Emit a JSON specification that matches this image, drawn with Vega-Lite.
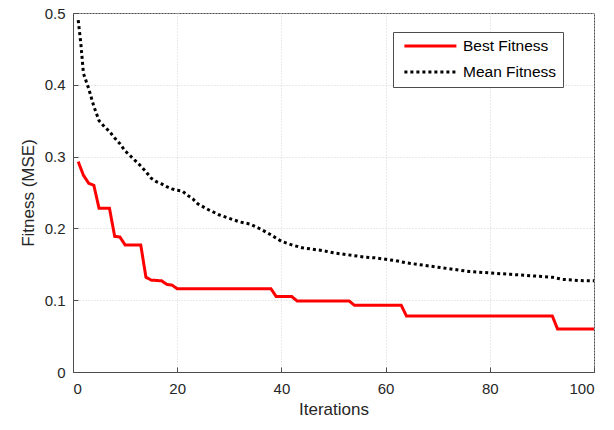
{
  "$schema": "https://vega.github.io/schema/vega-lite/v6.json",
  "width": 521,
  "height": 359,
  "autosize": {"type": "none"},
  "padding": {"left": 73, "top": 13, "right": 20, "bottom": 58},
  "background": "white",
  "config": {
    "font": "Liberation Sans",
    "view": {"stroke": "#4d4d4d", "strokeWidth": 1},
    "axis": {
      "domainColor": "#4d4d4d",
      "tickColor": "#4d4d4d",
      "gridColor": "#d4d4d4",
      "gridDash": [1, 2],
      "labelColor": "#262626",
      "titleColor": "#262626",
      "labelFont": "Liberation Sans",
      "titleFont": "Liberation Sans",
      "labelFontSize": 15,
      "titleFontSize": 17,
      "titleFontWeight": "normal"
    }
  },
  "data": {
    "values": [
      {"iter": 1, "fit": 0.293, "series": "Best Fitness"},
      {"iter": 2, "fit": 0.274, "series": "Best Fitness"},
      {"iter": 3, "fit": 0.263, "series": "Best Fitness"},
      {"iter": 4, "fit": 0.26, "series": "Best Fitness"},
      {"iter": 5, "fit": 0.228, "series": "Best Fitness"},
      {"iter": 7, "fit": 0.228, "series": "Best Fitness"},
      {"iter": 8, "fit": 0.189, "series": "Best Fitness"},
      {"iter": 9, "fit": 0.188, "series": "Best Fitness"},
      {"iter": 10, "fit": 0.177, "series": "Best Fitness"},
      {"iter": 13, "fit": 0.177, "series": "Best Fitness"},
      {"iter": 14, "fit": 0.132, "series": "Best Fitness"},
      {"iter": 15, "fit": 0.128, "series": "Best Fitness"},
      {"iter": 17, "fit": 0.127, "series": "Best Fitness"},
      {"iter": 18, "fit": 0.122, "series": "Best Fitness"},
      {"iter": 19, "fit": 0.121, "series": "Best Fitness"},
      {"iter": 20, "fit": 0.116, "series": "Best Fitness"},
      {"iter": 38, "fit": 0.116, "series": "Best Fitness"},
      {"iter": 39, "fit": 0.105, "series": "Best Fitness"},
      {"iter": 42, "fit": 0.105, "series": "Best Fitness"},
      {"iter": 43, "fit": 0.099, "series": "Best Fitness"},
      {"iter": 53, "fit": 0.099, "series": "Best Fitness"},
      {"iter": 54, "fit": 0.093, "series": "Best Fitness"},
      {"iter": 63, "fit": 0.093, "series": "Best Fitness"},
      {"iter": 64, "fit": 0.078, "series": "Best Fitness"},
      {"iter": 92, "fit": 0.078, "series": "Best Fitness"},
      {"iter": 93, "fit": 0.06, "series": "Best Fitness"},
      {"iter": 100, "fit": 0.06, "series": "Best Fitness"},
      {"iter": 1, "fit": 0.49, "series": "Mean Fitness"},
      {"iter": 1.5, "fit": 0.458, "series": "Mean Fitness"},
      {"iter": 2, "fit": 0.416, "series": "Mean Fitness"},
      {"iter": 3, "fit": 0.395, "series": "Mean Fitness"},
      {"iter": 4, "fit": 0.37, "series": "Mean Fitness"},
      {"iter": 5, "fit": 0.35, "series": "Mean Fitness"},
      {"iter": 6, "fit": 0.342, "series": "Mean Fitness"},
      {"iter": 7, "fit": 0.335, "series": "Mean Fitness"},
      {"iter": 8, "fit": 0.326, "series": "Mean Fitness"},
      {"iter": 9, "fit": 0.318, "series": "Mean Fitness"},
      {"iter": 10, "fit": 0.308, "series": "Mean Fitness"},
      {"iter": 11, "fit": 0.301, "series": "Mean Fitness"},
      {"iter": 12, "fit": 0.294, "series": "Mean Fitness"},
      {"iter": 13, "fit": 0.287, "series": "Mean Fitness"},
      {"iter": 14, "fit": 0.279, "series": "Mean Fitness"},
      {"iter": 15, "fit": 0.27, "series": "Mean Fitness"},
      {"iter": 16, "fit": 0.265, "series": "Mean Fitness"},
      {"iter": 17, "fit": 0.262, "series": "Mean Fitness"},
      {"iter": 18, "fit": 0.258, "series": "Mean Fitness"},
      {"iter": 19, "fit": 0.255, "series": "Mean Fitness"},
      {"iter": 20, "fit": 0.253, "series": "Mean Fitness"},
      {"iter": 21, "fit": 0.252, "series": "Mean Fitness"},
      {"iter": 22, "fit": 0.246, "series": "Mean Fitness"},
      {"iter": 23, "fit": 0.241, "series": "Mean Fitness"},
      {"iter": 24, "fit": 0.234, "series": "Mean Fitness"},
      {"iter": 26, "fit": 0.226, "series": "Mean Fitness"},
      {"iter": 28, "fit": 0.219, "series": "Mean Fitness"},
      {"iter": 30, "fit": 0.214, "series": "Mean Fitness"},
      {"iter": 32, "fit": 0.209, "series": "Mean Fitness"},
      {"iter": 34, "fit": 0.206, "series": "Mean Fitness"},
      {"iter": 36, "fit": 0.199, "series": "Mean Fitness"},
      {"iter": 38, "fit": 0.191, "series": "Mean Fitness"},
      {"iter": 40, "fit": 0.182, "series": "Mean Fitness"},
      {"iter": 42, "fit": 0.177, "series": "Mean Fitness"},
      {"iter": 44, "fit": 0.173, "series": "Mean Fitness"},
      {"iter": 46, "fit": 0.171, "series": "Mean Fitness"},
      {"iter": 48, "fit": 0.169, "series": "Mean Fitness"},
      {"iter": 50, "fit": 0.166, "series": "Mean Fitness"},
      {"iter": 52, "fit": 0.164, "series": "Mean Fitness"},
      {"iter": 54, "fit": 0.162, "series": "Mean Fitness"},
      {"iter": 56, "fit": 0.16, "series": "Mean Fitness"},
      {"iter": 58, "fit": 0.159, "series": "Mean Fitness"},
      {"iter": 60, "fit": 0.157, "series": "Mean Fitness"},
      {"iter": 62, "fit": 0.155, "series": "Mean Fitness"},
      {"iter": 64, "fit": 0.152, "series": "Mean Fitness"},
      {"iter": 66, "fit": 0.15, "series": "Mean Fitness"},
      {"iter": 68, "fit": 0.148, "series": "Mean Fitness"},
      {"iter": 70, "fit": 0.146, "series": "Mean Fitness"},
      {"iter": 72, "fit": 0.144, "series": "Mean Fitness"},
      {"iter": 74, "fit": 0.142, "series": "Mean Fitness"},
      {"iter": 76, "fit": 0.14, "series": "Mean Fitness"},
      {"iter": 78, "fit": 0.139, "series": "Mean Fitness"},
      {"iter": 80, "fit": 0.138, "series": "Mean Fitness"},
      {"iter": 82, "fit": 0.137, "series": "Mean Fitness"},
      {"iter": 84, "fit": 0.136, "series": "Mean Fitness"},
      {"iter": 86, "fit": 0.135, "series": "Mean Fitness"},
      {"iter": 88, "fit": 0.134, "series": "Mean Fitness"},
      {"iter": 90, "fit": 0.133, "series": "Mean Fitness"},
      {"iter": 92, "fit": 0.132, "series": "Mean Fitness"},
      {"iter": 94, "fit": 0.129, "series": "Mean Fitness"},
      {"iter": 96, "fit": 0.128, "series": "Mean Fitness"},
      {"iter": 98, "fit": 0.127, "series": "Mean Fitness"},
      {"iter": 100, "fit": 0.127, "series": "Mean Fitness"}
    ]
  },
  "mark": {"type": "line", "strokeWidth": 3, "strokeCap": "butt", "clip": true},
  "encoding": {
    "x": {
      "field": "iter",
      "type": "quantitative",
      "scale": {"domain": [0, 100], "nice": false},
      "axis": {"title": "Iterations", "values": [0, 20, 40, 60, 80, 100], "tickSize": -5, "labelPadding": 14, "titlePadding": 5}
    },
    "y": {
      "field": "fit",
      "type": "quantitative",
      "scale": {"domain": [0, 0.5], "nice": false},
      "axis": {"title": "Fitness (MSE)", "values": [0, 0.1, 0.2, 0.3, 0.4, 0.5], "format": "~g", "tickSize": -5, "labelPadding": 13, "titlePadding": 7}
    },
    "color": {
      "field": "series",
      "type": "nominal",
      "scale": {"domain": ["Best Fitness", "Mean Fitness"], "range": ["#ff0000", "#000000"]},
      "legend": {
        "title": null,
        "orient": "none",
        "legendX": 320,
        "legendY": 19,
        "symbolType": "M-0.4,0H7.6",
        "symbolSize": 169,
        "symbolStrokeWidth": 3,
        "labelFontSize": 15.5,
        "labelColor": "#000000",
        "labelFont": "Liberation Sans",
        "strokeColor": "#4d4d4d",
        "fillColor": "white",
        "padding": 6,
        "rowPadding": 9,
        "labelOffset": 48
      }
    },
    "strokeDash": {
      "field": "series",
      "type": "nominal",
      "scale": {"domain": ["Best Fitness", "Mean Fitness"], "range": [[1, 0], [3, 3]]},
      "legend": null
    }
  }
}
